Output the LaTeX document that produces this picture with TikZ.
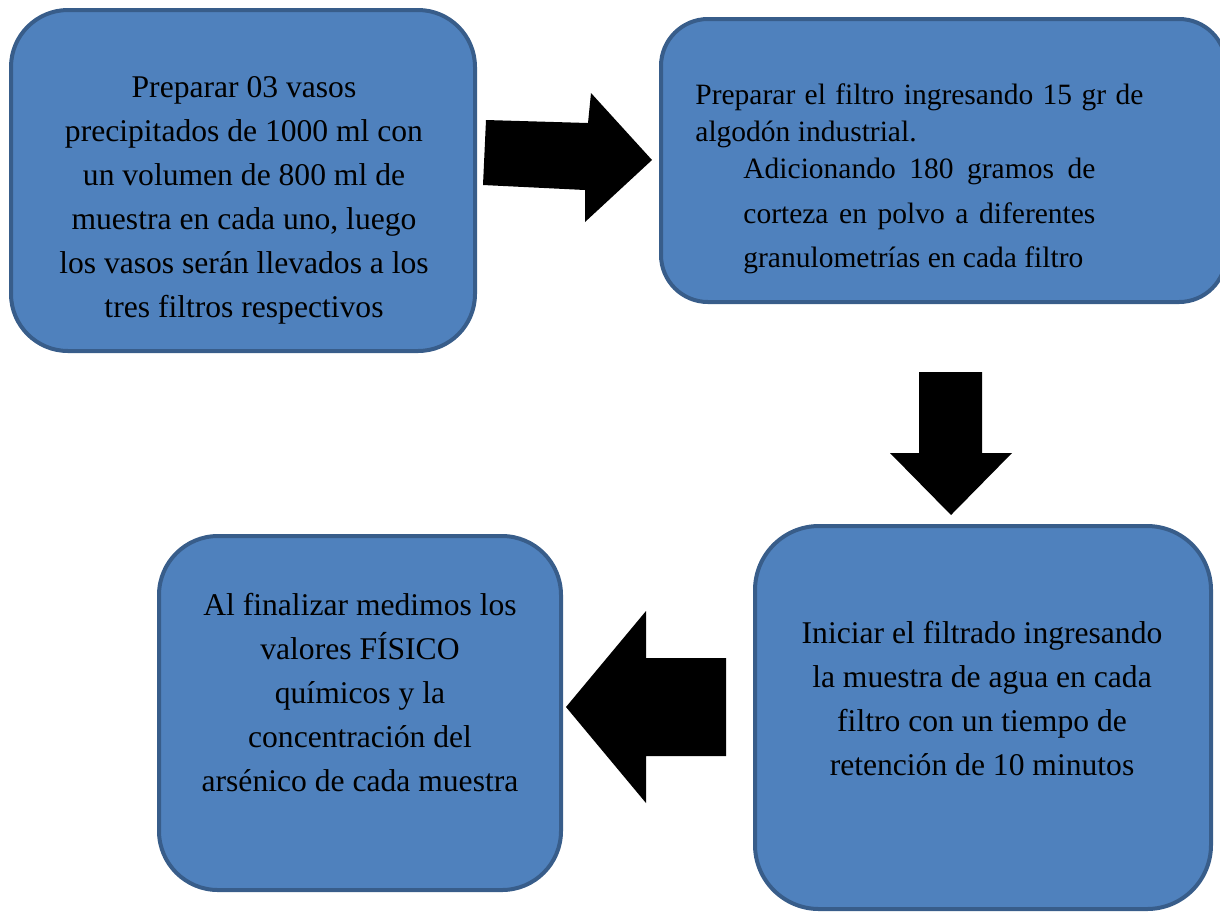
\documentclass[tikz,border=0pt]{standalone}
\usepackage{fontspec}
\setmainfont{Liberation Serif}
\usetikzlibrary{positioning}
\definecolor{boxfill}{HTML}{4F81BD}
\definecolor{boxline}{HTML}{385D8A}
\tikzset{paso/.style={draw=boxline,fill=boxfill,line width=2pt,inner sep=0pt},
  texto/.style={align=center,inner sep=0pt,font=\fontsize{15.8}{22}\selectfont},
  flecha/.style={fill=black}}

\begin{document}
\begin{tikzpicture}[x=0.5pt,y=-0.5pt,line join=round]
    \useasboundingbox (0,0) rectangle (1220,912);

    % cajas
    \node[paso,minimum width=232pt,minimum height=170.5pt,rounded corners=28.5pt] (prep) at (243,180.5) {};
    \node[paso,minimum width=282.5pt,minimum height=141.5pt,rounded corners=23.5pt] (filtro) at (943.5,160.5) {};
    \node[paso,minimum width=228pt,minimum height=191.5pt,rounded corners=32pt] (inicio) at (983,717.5) {};
    \node[paso,minimum width=201pt,minimum height=177pt,rounded corners=29.5pt] (final) at (360,713) {};

    % flechas
    \fill[flecha] (486,120) -- (588,123) -- (591,93) -- (652,160) -- (585,222) -- (585,190) -- (483,185) -- cycle;
    \fill[flecha] (919,372) -- (982,372) -- (982,453) -- (1012,453) -- (951,515) -- (890,453) -- (919,453) -- cycle;
    \fill[flecha] (566,707) -- (646,611) -- (646,658) -- (726,658) -- (726,756) -- (646,756) -- (646,803) -- cycle;

    % textos
    \node[texto] (tprep) at (244,200.2) {Preparar 03 vasos\\precipitados de 1000 ml con\\un volumen de 800 ml de\\muestra en cada uno, luego\\los vasos serán llevados a los\\tres filtros respectivos};

    \node[anchor=north west,align=left,inner sep=0pt,font=\fontsize{14.75}{18.5}\selectfont] (tfiltro) at (695,82.9)
      {\makebox[224pt][s]{Preparar el filtro ingresando 15 gr de}\\algodón industrial.};
    \node[anchor=north west,align=left,inner sep=0pt,font=\fontsize{14.75}{22.25}\selectfont] (tcorteza) at (743,157.9)
      {\makebox[176pt][s]{Adicionando 180 gramos de}\\\makebox[176pt][s]{corteza en polvo a diferentes}\\granulometrías en cada filtro};

    \node[texto] (tinicio) at (982,698.4) {Iniciar el filtrado ingresando\\la muestra de agua en cada\\filtro con un tiempo de\\retención de 10 minutos};

    \node[texto] (tfinal) at (360,692.7) {Al finalizar medimos los\\valores FÍSICO\\químicos y la\\concentración del\\arsénico de cada muestra};

\end{tikzpicture}
\end{document}
